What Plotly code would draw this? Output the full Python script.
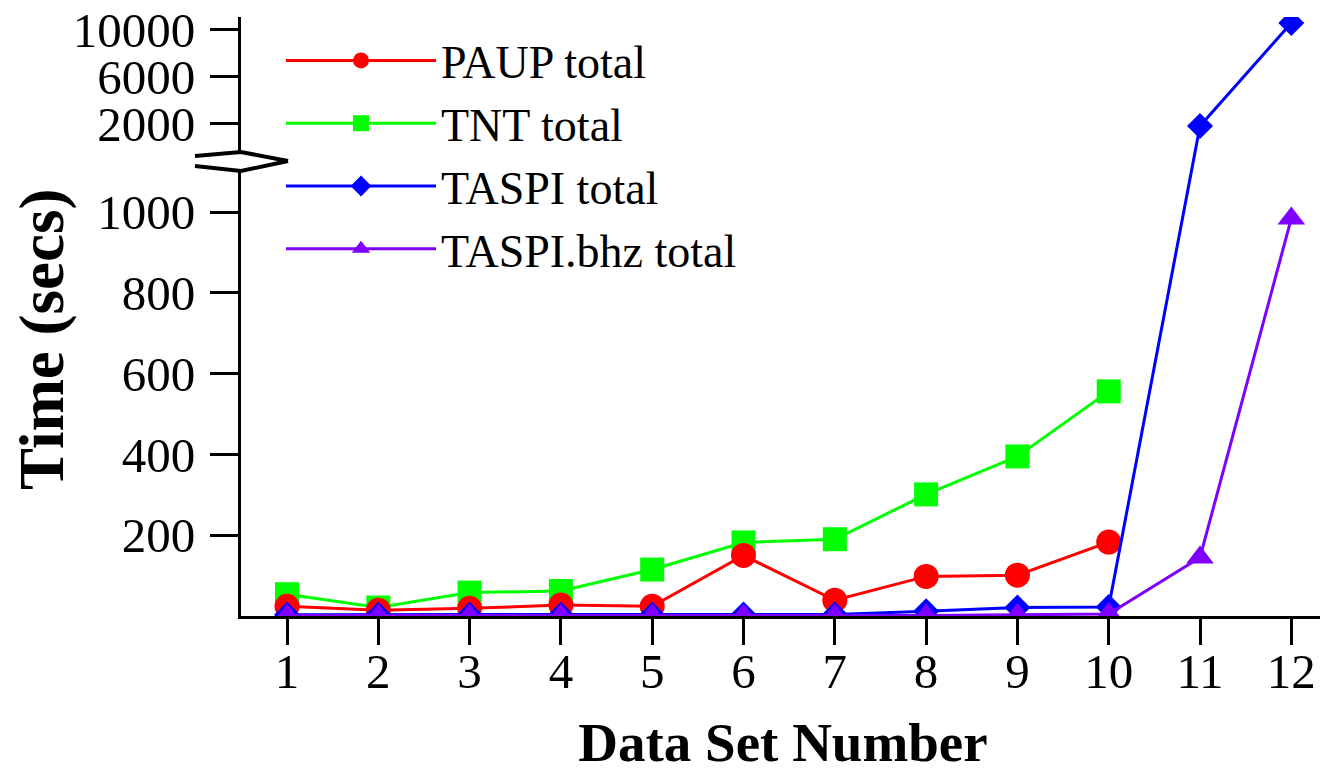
import plotly.graph_objects as go

# ---------------- data ----------------
data_sets = list(range(1, 13))
paup_x = list(range(1, 11))
paup_total = [24, 14, 19, 27, 24, 150, 39, 98, 101, 183]
tnt_x = list(range(1, 11))
tnt_total = [54, 21, 58, 62, 115, 182, 190, 301, 395, 556]
taspi_x = list(range(1, 13))
taspi_total = [3, 3, 3, 3, 3, 4, 4, 12, 21, 22, 1800, 10560]
bhz_x = list(range(1, 13))
bhz_total = [1, 1, 1, 1, 1, 1, 1, 1, 3, 5, 145, 984]

lower_ticks = [200, 400, 600, 800, 1000]
upper_ticks = [2000, 6000, 10000]

# ---------------- broken axis mapping ----------------
BREAK_AT = 1150          # values above this live in the compressed upper segment
UPPER_BASE = 1218.8      # axis position of 2000
UPPER_SCALE = 0.02908    # axis units per second in the upper segment


def to_axis(v):
    if v is None:
        return None
    if v <= BREAK_AT:
        return v
    return UPPER_BASE + (v - 2000) * UPPER_SCALE


def mapped(vals):
    return [to_axis(v) for v in vals]


FONT = "Liberation Serif"
RED, GREEN, BLUE, PURPLE = "#FF0000", "#00FF00", "#0000FF", "#7F00FF"

fig = go.Figure()
fig.add_trace(go.Scatter(x=tnt_x, y=mapped(tnt_total), name="TNT total", legendrank=2,
                         mode="lines+markers", line=dict(color=GREEN, width=3),
                         marker=dict(symbol="square", size=24, color=GREEN)))
fig.add_trace(go.Scatter(x=paup_x, y=mapped(paup_total), name="PAUP total", legendrank=1,
                         mode="lines+markers", line=dict(color=RED, width=3),
                         marker=dict(symbol="circle", size=25, color=RED)))
fig.add_trace(go.Scatter(x=taspi_x, y=mapped(taspi_total), name="TASPI total", legendrank=3,
                         mode="lines+markers", line=dict(color=BLUE, width=3),
                         marker=dict(symbol="diamond", size=20, color=BLUE)))
fig.add_trace(go.Scatter(x=bhz_x, y=mapped(bhz_total), name="TASPI.bhz total", legendrank=4,
                         mode="lines+markers", line=dict(color=PURPLE, width=3),
                         marker=dict(symbol="triangle-up", size=24, color=PURPLE)))

# the page body adds an 8px offset; the figure is sized to fit inside the window
OFF = 8
W, H = 1320, 765
L, T = 241 - OFF, 17 - OFF
B = H - (616 - OFF)
R = W - (1325 - OFF)
PW, PH = W - L - R, H - T - B


def px(xp):
    """page x pixel -> paper x"""
    return (xp - OFF - L) / PW


def py(yp):
    """page y pixel -> paper y"""
    return (H - B - (yp - OFF)) / PH


tickvals = mapped(lower_ticks + upper_ticks)
ticktext = [str(t) for t in lower_ticks + upper_ticks]

fig.update_layout(
    width=W, height=H,
    margin=dict(l=L, r=R, t=T, b=B, autoexpand=False),
    paper_bgcolor="white", plot_bgcolor="white",
    font=dict(family=FONT, color="black"),
    showlegend=True,
    legend=dict(x=px(281), y=py(24), xanchor="left", yanchor="top",
                font=dict(size=46, family=FONT), bgcolor="rgba(0,0,0,0)",
                itemwidth=150, tracegroupgap=0),
    xaxis=dict(range=[0.496, 12.369], tickvals=data_sets, ticktext=[str(d) for d in data_sets],
               showgrid=False, zeroline=False, showline=True, linecolor="black", linewidth=3,
               ticks="outside", ticklen=26, tickwidth=3, tickcolor="black",
               tickfont=dict(size=49, family=FONT), ticklabelstandoff=-16, automargin=False,
               title=dict(text="<b>Data Set Number</b>", font=dict(size=55, family=FONT), standoff=48)),
    yaxis=dict(range=[0, 1482.7], tickvals=tickvals, ticktext=ticktext,
               showgrid=False, zeroline=False, showline=True, linecolor="black", linewidth=3,
               ticks="outside", ticklen=28, tickwidth=3, tickcolor="black",
               tickfont=dict(size=49, family=FONT), ticklabelstandoff=5, automargin=False,
               ticklabeloverflow="allow"),
    annotations=[dict(text="<b>Time (secs)</b>", textangle=-90, showarrow=False,
                      xref="paper", yref="paper", x=px(42), y=py(339),
                      xanchor="center", yanchor="middle",
                      font=dict(size=63, family=FONT, color="black"))],
)

# axis break marker (decoration), given in page pixels
fig.add_shape(type="rect", xref="paper", yref="paper", layer="above",
              x0=px(236), x1=px(247), y0=py(171), y1=py(152),
              fillcolor="white", line=dict(width=0))
for pts in ([(195, 156), (241, 152), (288, 161)], [(195, 166), (241, 171), (288, 161)]):
    path = "M " + " L ".join(f"{px(a):.5f},{py(b):.5f}" for a, b in pts)
    fig.add_shape(type="path", xref="paper", yref="paper", layer="above", path=path,
                  line=dict(color="black", width=4))

fig.write_html("out.html")
